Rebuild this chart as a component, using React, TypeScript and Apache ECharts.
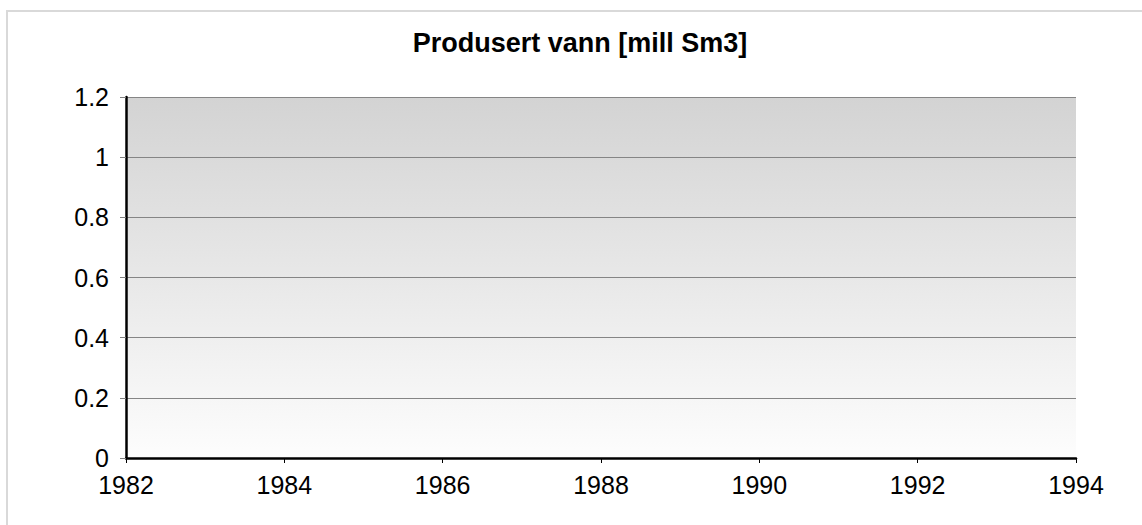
import React, { useEffect, useRef } from "react";
import * as echarts from "echarts";

const chartTitle = "Produsert vann [mill Sm3]";
const seriesName = "Produsert vann";
const years: number[] = [];
const values: number[] = [];
const xMin = 1982;
const xMax = 1994;
const xStep = 2;
const yMin = 0;
const yMax = 1.2;
const yStep = 0.2;

export default function App() {
  const ref = useRef<HTMLDivElement>(null);
  useEffect(() => {
    if (!ref.current) return;
    const chart = echarts.init(ref.current, null, { renderer: "svg" });
    const font = "'Liberation Sans', Arial, sans-serif";
    chart.setOption({
      animation: false,
      backgroundColor: "#ffffff",
      textStyle: { fontFamily: font },
      title: {
        text: chartTitle,
        left: 580,
        textAlign: "center",
        top: 29,
        padding: 0,
        textStyle: { fontFamily: font, fontSize: 27, fontWeight: "bold", color: "#000" },
      },
      graphic: [
        {
          type: "rect",
          shape: { x: 7, y: 11, width: 1200, height: 600 },
          style: { fill: "none", stroke: "#d9d9d9", lineWidth: 2 },
          silent: true,
        },
      ],
      grid: {
        left: 126,
        top: 97,
        right: 66,
        bottom: 67,
        show: true,
        borderWidth: 0,
        backgroundColor: new echarts.graphic.LinearGradient(0, 0, 0, 1, [
          { offset: 0, color: "#d3d3d3" },
          { offset: 1, color: "#fdfdfd" },
        ]),
      },
      xAxis: {
        type: "value",
        min: xMin,
        max: xMax,
        interval: xStep,
        axisLine: { show: true, onZero: false, lineStyle: { color: "#000", width: 2.5 } },
        axisTick: { show: true, length: 5, lineStyle: { color: "#000" } },
        axisLabel: {
          color: "#000",
          fontSize: 25,
          fontFamily: font,
          margin: 14,
          formatter: (v: number) => String(v),
        },
        splitLine: { show: false },
      },
      yAxis: {
        type: "value",
        min: yMin,
        max: yMax,
        interval: yStep,
        axisLine: { show: true, lineStyle: { color: "#000", width: 2.5 } },
        axisTick: { show: true, length: 6, lineStyle: { color: "#808080" } },
        axisLabel: {
          color: "#000",
          fontSize: 25,
          fontFamily: font,
          margin: 17,
          formatter: (v: number) => String(Math.round(v * 10) / 10),
        },
        splitLine: { show: true, lineStyle: { color: "#858585", width: 1 } },
      },
      series: [
        {
          name: seriesName,
          type: "line",
          data: years.map((y, i) => [y, values[i]]),
          showSymbol: false,
          lineStyle: { color: "#000080" },
        },
      ],
    });
    return () => chart.dispose();
  }, []);
  return (
    <div
      ref={ref}
      style={{ position: "fixed", left: 0, top: 0, width: 1142, height: 525 }}
    />
  );
}
